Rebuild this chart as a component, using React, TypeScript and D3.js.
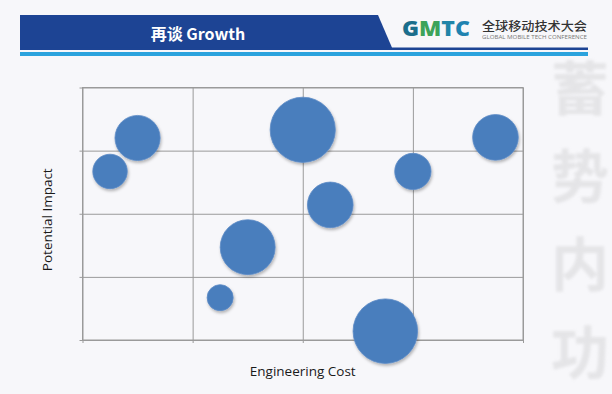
import * as d3 from "d3";
import React, { useEffect, useRef } from "react";

// bubble data (x = engineering cost, y = potential impact)
const costs = [0.5, 0.25, 2.0, 3.75, 3.0, 2.25, 1.5, 1.25, 2.75];
const impacts = [3.2, 2.67, 3.33, 3.21, 2.67, 2.14, 1.47, 0.67, 0.14];
const sizes = [4.8, 2.8, 10, 4.9, 3.1, 4.9, 7.1, 1.6, 9.8];

const title = "再谈 Growth";
const xLabel = "Engineering Cost";
const yLabel = "Potential Impact";
const watermark = ["蓄", "势", "内", "功"];

const W = 612;
const H = 394;

export default function App() {
  const ref = useRef<SVGSVGElement | null>(null);

  useEffect(() => {
    if (!ref.current) return;
    const svg = d3.select(ref.current);
    svg.selectAll("*").remove();

    const margin = { left: 82.5, right: 89, top: 87.5, bottom: 54 };
    const plotW = W - margin.left - margin.right;
    const plotH = H - margin.top - margin.bottom;

    const x = d3.scaleLinear().domain([0, 4]).range([margin.left, margin.left + plotW]);
    const y = d3.scaleLinear().domain([0, 4]).range([margin.top + plotH, margin.top]);
    const r = d3.scaleSqrt().domain([0, 10]).range([0, 32.6]);

    const defs = svg.append("defs");
    const f = defs.append("filter").attr("id", "shadow").attr("x", "-30%").attr("y", "-30%").attr("width", "160%").attr("height", "160%");
    f.append("feDropShadow")
      .attr("dx", 1)
      .attr("dy", 2)
      .attr("stdDeviation", 1.6)
      .attr("flood-color", "#000")
      .attr("flood-opacity", 0.28);
    const blur = defs.append("filter").attr("id", "soft");
    blur.append("feGaussianBlur").attr("stdDeviation", 1.5);

    // background
    svg.append("rect").attr("width", W).attr("height", H).attr("fill", "#f7f7fa");

    // faint calligraphy watermark on the right
    const wm = svg.append("g").attr("fill", "#d6d6d8").attr("opacity", 0.55)
      .attr("filter", "url(#soft)")
      .style("font-family", "'Noto Sans CJK SC', sans-serif").style("font-weight", 700);
    wm.selectAll("text")
      .data(watermark)
      .join("text")
      .attr("x", 580)
      .attr("y", (_, i) => 110 + i * 88)
      .attr("text-anchor", "middle")
      .style("font-size", "58px")
      .text(d => d);

    // header band
    const header = svg.append("g");
    header.append("path")
      .attr("d", "M20,15 L378,15 L393,50 L20,50 Z")
      .attr("fill", "#1d4494");
    header.append("rect").attr("x", 20).attr("y", 47.5).attr("width", 568).attr("height", 2.5).attr("fill", "#1d4494");
    header.append("rect").attr("x", 20).attr("y", 52).attr("width", 568).attr("height", 4).attr("fill", "#2ba3dd");
    header.append("text")
      .attr("x", 198)
      .attr("y", 40)
      .attr("text-anchor", "middle")
      .attr("fill", "#fff")
      .style("font-family", "'Noto Sans CJK SC', 'Open Sans', sans-serif")
      .style("font-weight", 700)
      .style("font-size", "16px")
      .text(title);

    // GMTC logo
    const logo = header.append("text")
      .attr("x", 402)
      .attr("y", 36)
      .attr("textLength", 68)
      .attr("lengthAdjust", "spacingAndGlyphs")
      .style("font-family", "'Open Sans', 'DejaVu Sans', sans-serif")
      .style("font-weight", 800)
      .style("font-size", "20.5px");
    const logoColors = ["#1b6e8c", "#3da35a", "#2185a8", "#1f82b0"];
    "GMTC".split("").forEach((c, i) => {
      logo.append("tspan").attr("fill", logoColors[i]).text(c);
    });
    header.append("text")
      .attr("x", 482)
      .attr("y", 31)
      .attr("fill", "#333")
      .attr("textLength", 105)
      .attr("lengthAdjust", "spacingAndGlyphs")
      .style("font-family", "'Noto Sans CJK SC', sans-serif")
      .style("font-weight", 500)
      .style("font-size", "12.5px")
      .text("全球移动技术大会");
    header.append("text")
      .attr("x", 482)
      .attr("y", 39)
      .attr("fill", "#777")
      .attr("textLength", 105)
      .attr("lengthAdjust", "spacingAndGlyphs")
      .style("font-family", "'Open Sans', sans-serif")
      .style("font-size", "4.5px")
      .text("GLOBAL MOBILE TECH CONFERENCE");

    // grid + ticks
    const grid = svg.append("g");
    grid.append("g")
      .attr("transform", `translate(${margin.left - 3},0)`)
      .call(d3.axisLeft(y).ticks(4).tickSize(-(plotW + 3)).tickFormat(() => ""))
      .call(g => g.select(".domain").remove())
      .call(g => g.selectAll("line").attr("stroke", "#9a9a9a"));
    grid.append("g")
      .attr("transform", `translate(0,${margin.top + plotH + 3})`)
      .call(d3.axisBottom(x).ticks(4).tickSize(-(plotH + 3)).tickFormat(() => ""))
      .call(g => g.select(".domain").remove())
      .call(g => g.selectAll("line").attr("stroke", "#9a9a9a"));
    grid.append("rect")
      .attr("x", margin.left)
      .attr("y", margin.top)
      .attr("width", plotW)
      .attr("height", plotH)
      .attr("fill", "none")
      .attr("stroke", "#9a9a9a");

    // bubbles
    const data = costs.map((c, i) => ({ c, v: impacts[i], s: sizes[i] }));
    svg.append("g")
      .selectAll("circle")
      .data(data)
      .join("circle")
      .attr("cx", d => x(d.c))
      .attr("cy", d => y(d.v))
      .attr("r", d => r(d.s))
      .attr("fill", "#4a7ebd")
      .attr("stroke", "#5d8cc6")
      .attr("stroke-width", 0.8)
      .attr("filter", "url(#shadow)");

    // axis titles
    svg.append("text")
      .attr("x", margin.left + plotW / 2)
      .attr("y", 376)
      .attr("text-anchor", "middle")
      .attr("fill", "#1a1a1a")
      .style("font-family", "'Open Sans', sans-serif")
      .style("font-size", "13.5px")
      .text(xLabel);
    svg.append("text")
      .attr("transform", `translate(52,${margin.top + plotH / 2 + 6}) rotate(-90)`)
      .attr("text-anchor", "middle")
      .attr("fill", "#1a1a1a")
      .style("font-family", "'Open Sans', sans-serif")
      .style("font-size", "13.5px")
      .text(yLabel);
  }, []);

  return (
    <svg
      ref={ref}
      width={W}
      height={H}
      style={{ position: "absolute", left: 0, top: 0, display: "block" }}
    />
  );
}
